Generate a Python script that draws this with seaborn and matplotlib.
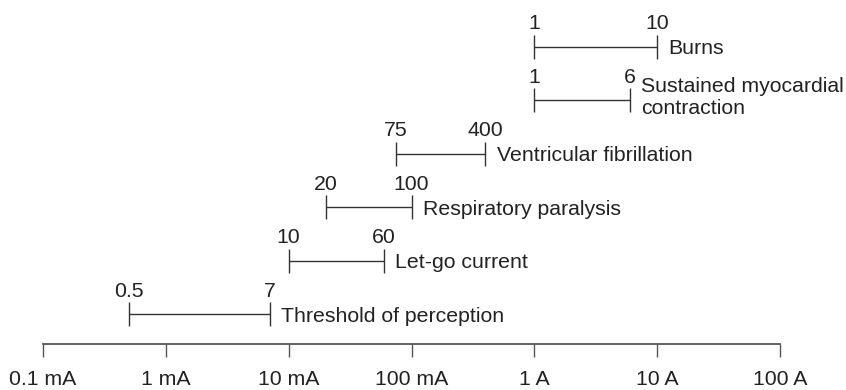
import matplotlib
matplotlib.use("Agg")
import matplotlib.pyplot as plt
import seaborn as sns
import pandas as pd
import numpy as np

# ---- data (currents in amperes) ----
effects = ["Threshold of perception", "Let-go current", "Respiratory paralysis",
           "Ventricular fibrillation", "Sustained myocardial\ncontraction", "Burns"]
low_amps = [0.0005, 0.010, 0.020, 0.075, 1.0, 1.0]
high_amps = [0.007, 0.060, 0.100, 0.400, 6.0, 10.0]
low_labels = ["0.5", "10", "20", "75", "1", "1"]
high_labels = ["7", "60", "100", "400", "6", "10"]
tick_values = [1e-4, 1e-3, 1e-2, 1e-1, 1, 10, 100]
tick_labels = ["0.1 mA", "1 mA", "10 mA", "100 mA", "1 A", "10 A", "100 A"]

sns.set_theme(style="white")
plt.rcParams["font.family"] = ["Liberation Sans", "DejaVu Sans"]

W, H = 846, 390
fig = plt.figure(figsize=(W / 100, H / 100), dpi=100)
axis_px = 344
ax = fig.add_axes([0, (H - axis_px) / H, 1, axis_px / H])

df = pd.DataFrame({"effect": effects, "low": low_amps, "high": high_amps,
                   "row": np.arange(len(effects))})

line_col = "#333333"
text_col = "#222222"

ax.hlines(df["row"], df["low"], df["high"], color=line_col, lw=1.0)
caps = pd.DataFrame({"x": list(df["low"]) + list(df["high"]),
                     "y": list(df["row"]) * 2})
sns.scatterplot(data=caps, x="x", y="y", marker="|", s=300, color=line_col,
                linewidth=1.0, ax=ax, legend=False)

fs = 15.3
for i, r in df.iterrows():
    ax.annotate(low_labels[i], (r["low"], r["row"]), xytext=(0, 12.5),
                textcoords="offset points", ha="center", va="baseline",
                fontsize=fs, color=text_col)
    ax.annotate(high_labels[i], (r["high"], r["row"]), xytext=(0, 12.5),
                textcoords="offset points", ha="center", va="baseline",
                fontsize=fs, color=text_col)
    nlines = r["effect"].count("\n") + 1
    ax.annotate(r["effect"], (r["high"], r["row"]),
                xytext=(8, -1.5 + 3 * (nlines - 1)), textcoords="offset points",
                ha="left", va="center", fontsize=fs, color=text_col,
                linespacing=1.2)

ax.set_xscale("log")
ppd = (780 - 43) / 6.0
ax.set_xlim(10 ** (-4 - 43 / ppd), 10 ** (2 + (W - 780) / ppd))
row_px = 53.5
base_px = 314
ax.set_ylim(0 - (axis_px - base_px) / row_px, 5 + (base_px - 5 * row_px) / row_px)

ax.set_xticks(tick_values)
ax.set_xticklabels(tick_labels)
ax.xaxis.set_minor_locator(matplotlib.ticker.NullLocator())
ax.set_yticks([])
ax.set_xlabel("")
ax.set_ylabel("")
for s in ["left", "right", "top"]:
    ax.spines[s].set_visible(False)
ax.spines["bottom"].set_color("#555555")
ax.spines["bottom"].set_linewidth(1.3)
ax.spines["bottom"].set_bounds(tick_values[0], tick_values[-1])
ax.tick_params(axis="x", bottom=True, direction="out", length=9.5, width=1.0,
               color="#555555", pad=9, labelsize=fs, labelcolor=text_col)
ax.patch.set_alpha(0)

fig.savefig("out.png", dpi=100)
